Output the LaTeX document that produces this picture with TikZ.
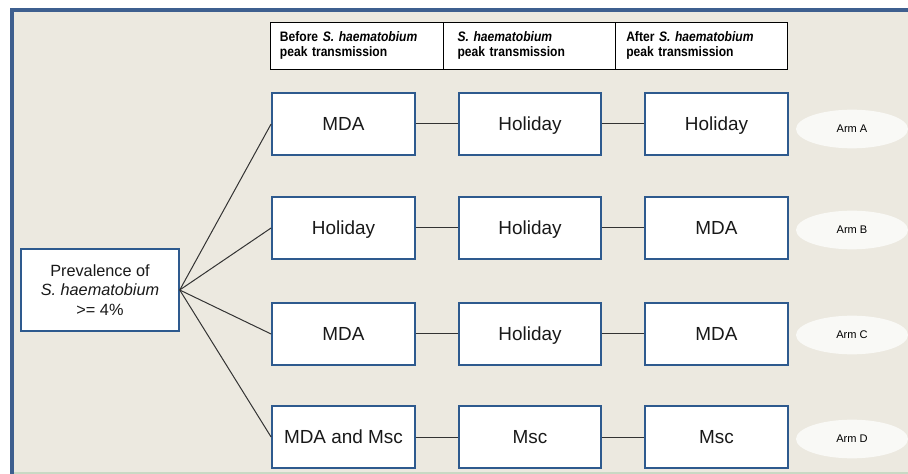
\documentclass[tikz,border=0pt]{standalone}
\usepackage{fontspec}
\setmainfont{Liberation Sans}
\newfontfamily\narrowfont[FakeStretch=0.88]{Liberation Sans}
\usetikzlibrary{shapes.geometric}
\definecolor{bgc}{HTML}{ECE9E0}
\definecolor{frm}{HTML}{3E5F8F}
\definecolor{boxb}{HTML}{2E5A8E}
\definecolor{ellf}{HTML}{F9F9F6}
\definecolor{botl}{HTML}{C9D9C4}
\tikzset{
  stepbox/.style={draw=boxb, line width=1.6pt, fill=white, minimum width=107pt, minimum height=47pt, inner sep=0pt, font=\fontsize{14.2}{16}\selectfont, text=black!90, text height=10.2pt, text depth=0.4pt},
  armell/.style={ellipse, fill=ellf, minimum width=84pt, minimum height=29pt, inner sep=0pt, font=\fontsize{8.3}{9}\selectfont},
  hdr/.style={draw=black, line width=0.9pt, fill=white, minimum height=35pt, inner ysep=0pt, font=\narrowfont\fontsize{10.3}{11.3}\selectfont\bfseries, align=left, anchor=north west},
  conn/.style={draw=black!80, line width=0.75pt}
}
\begin{document}
\begin{tikzpicture}[x=0.75pt,y=-0.75pt]
\useasboundingbox (0,0) rectangle (908,474);
\fill[white] (0,0) rectangle (908,474);
\fill[bgc] (12,10) rectangle (908,472);
\draw[botl, line width=1.5pt] (12,472.5) -- (908,472.5);
\draw[frm, line width=3pt] (12,474) -- (12,10) -- (908,10);

% header
\node[hdr, inner xsep=7pt, text width=116pt] (h1) at (270,22) {\raisebox{2pt}{\begin{tabular}{@{}l@{}}Before \textit{S. haematobium}\\peak transmission\end{tabular}}};
\node[hdr, inner xsep=10.5pt, text width=108pt] (h2) at (443,22) {\raisebox{2pt}{\begin{tabular}{@{}l@{}}\textit{S. haematobium}\\peak transmission\end{tabular}}};
\node[hdr, inner xsep=8pt, text width=113pt] (h3) at (615,22) {\raisebox{2pt}{\begin{tabular}{@{}l@{}}After \textit{S. haematobium}\\peak transmission\end{tabular}}};

% left box
\node[stepbox, minimum width=118pt, minimum height=62pt, align=center, font=\fontsize{12.2}{14.5}\selectfont, text height=, text depth=] (p) at (100,290) {Prevalence of\\\textit{S. haematobium}\\>= 4\%};

% rows
\node[stepbox] (a1) at (343.5,124) {MDA};
\node[stepbox] (a2) at (530,124) {Holiday};
\node[stepbox] (a3) at (716.5,124) {Holiday};
\node[stepbox] (b1) at (343.5,228) {Holiday};
\node[stepbox] (b2) at (530,228) {Holiday};
\node[stepbox] (b3) at (716.5,228) {MDA};
\node[stepbox] (c1) at (343.5,334) {MDA};
\node[stepbox] (c2) at (530,334) {Holiday};
\node[stepbox] (c3) at (716.5,334) {MDA};
\node[stepbox] (d1) at (343.5,437) {MDA and Msc};
\node[stepbox] (d2) at (530,437) {Msc};
\node[stepbox] (d3) at (716.5,437) {Msc};

\foreach \r in {a,b,c,d}{
  \draw[conn] (p.east) -- (\r1.west);
  \draw[conn] (\r1.east) -- (\r2.west);
  \draw[conn] (\r2.east) -- (\r3.west);
}

% arms
\node[armell] (ea) at (852,129) {Arm A};
\node[armell] (eb) at (852,230) {Arm B};
\node[armell] (ec) at (852,335) {Arm C};
\node[armell] (ed) at (852,439) {Arm D};
\end{tikzpicture}
\end{document}
